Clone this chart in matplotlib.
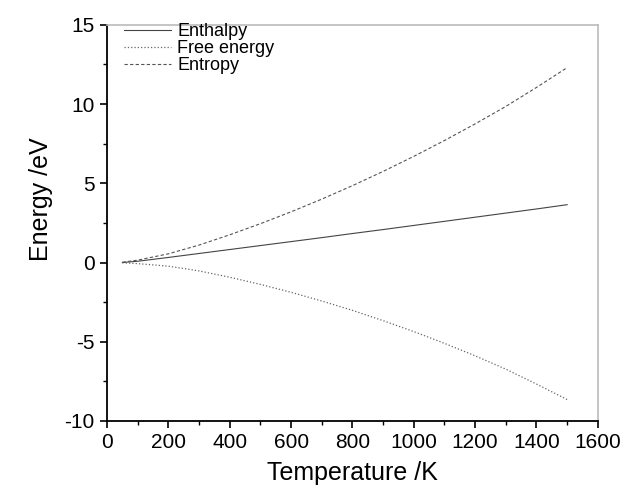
import numpy as np
import matplotlib.pyplot as plt

plt.rcParams['font.family'] = ['Liberation Sans', 'DejaVu Sans']
plt.rcParams['axes.unicode_minus'] = False

temperature = [50, 100, 200, 300, 400, 500, 600, 700, 800, 900, 1000, 1100, 1200, 1300, 1400, 1500]
enthalpy = [0.0, 0.08, 0.32, 0.57, 0.82, 1.07, 1.32, 1.57, 1.83, 2.08, 2.34, 2.6, 2.86, 3.12, 3.38, 3.65]
free_energy = [-0.02, -0.07, -0.23, -0.53, -0.93, -1.38, -1.88, -2.43, -3.02, -3.67, -4.36, -5.1, -5.89, -6.73, -7.67, -8.65]
entropy = [0.02, 0.15, 0.55, 1.1, 1.75, 2.45, 3.2, 4.0, 4.85, 5.75, 6.7, 7.7, 8.75, 9.85, 11.05, 12.3]

fig = plt.figure(figsize=(6.26, 4.97), dpi=100)
ax = fig.add_axes([0.171, 0.153, 0.784, 0.797])

ax.plot(temperature, enthalpy, color='#444444', lw=0.8, ls='-', label='Enthalpy')
ax.plot(temperature, free_energy, color='#666666', lw=0.9, ls=':', label='Free energy')
ax.plot(temperature, entropy, color='#555555', lw=0.8, ls=(0, (3, 2)), label='Entropy')

ax.set_xlim(0, 1600)
ax.set_ylim(-10, 15)
ax.set_xticks(np.arange(0, 1601, 200))
ax.set_xticks(np.arange(100, 1600, 200), minor=True)
ax.set_yticks(np.arange(-10, 16, 5))
ax.set_yticks(np.arange(-7.5, 15, 5), minor=True)
ax.tick_params(which='major', length=5, width=1.2, labelsize=15, color='black', pad=4)
ax.tick_params(which='minor', length=3, width=1.0)

for side in ['left', 'bottom']:
    ax.spines[side].set_linewidth(1.3)
for side in ['top', 'right']:
    ax.spines[side].set_color('#bbbbbb')
    ax.spines[side].set_linewidth(1.2)

ax.set_xlabel('Temperature /K', fontsize=18, labelpad=6)
ax.set_ylabel('Energy /eV', fontsize=18)
ax.yaxis.set_label_coords(-0.11, 0.56)

ax.legend(loc='upper left', frameon=False, fontsize=13, handlelength=2.6,
          handletextpad=0.35, labelspacing=0.0, borderpad=0.0, borderaxespad=0.0,
          bbox_to_anchor=(0.035, 1.005))

plt.savefig('out.png', dpi=100)
